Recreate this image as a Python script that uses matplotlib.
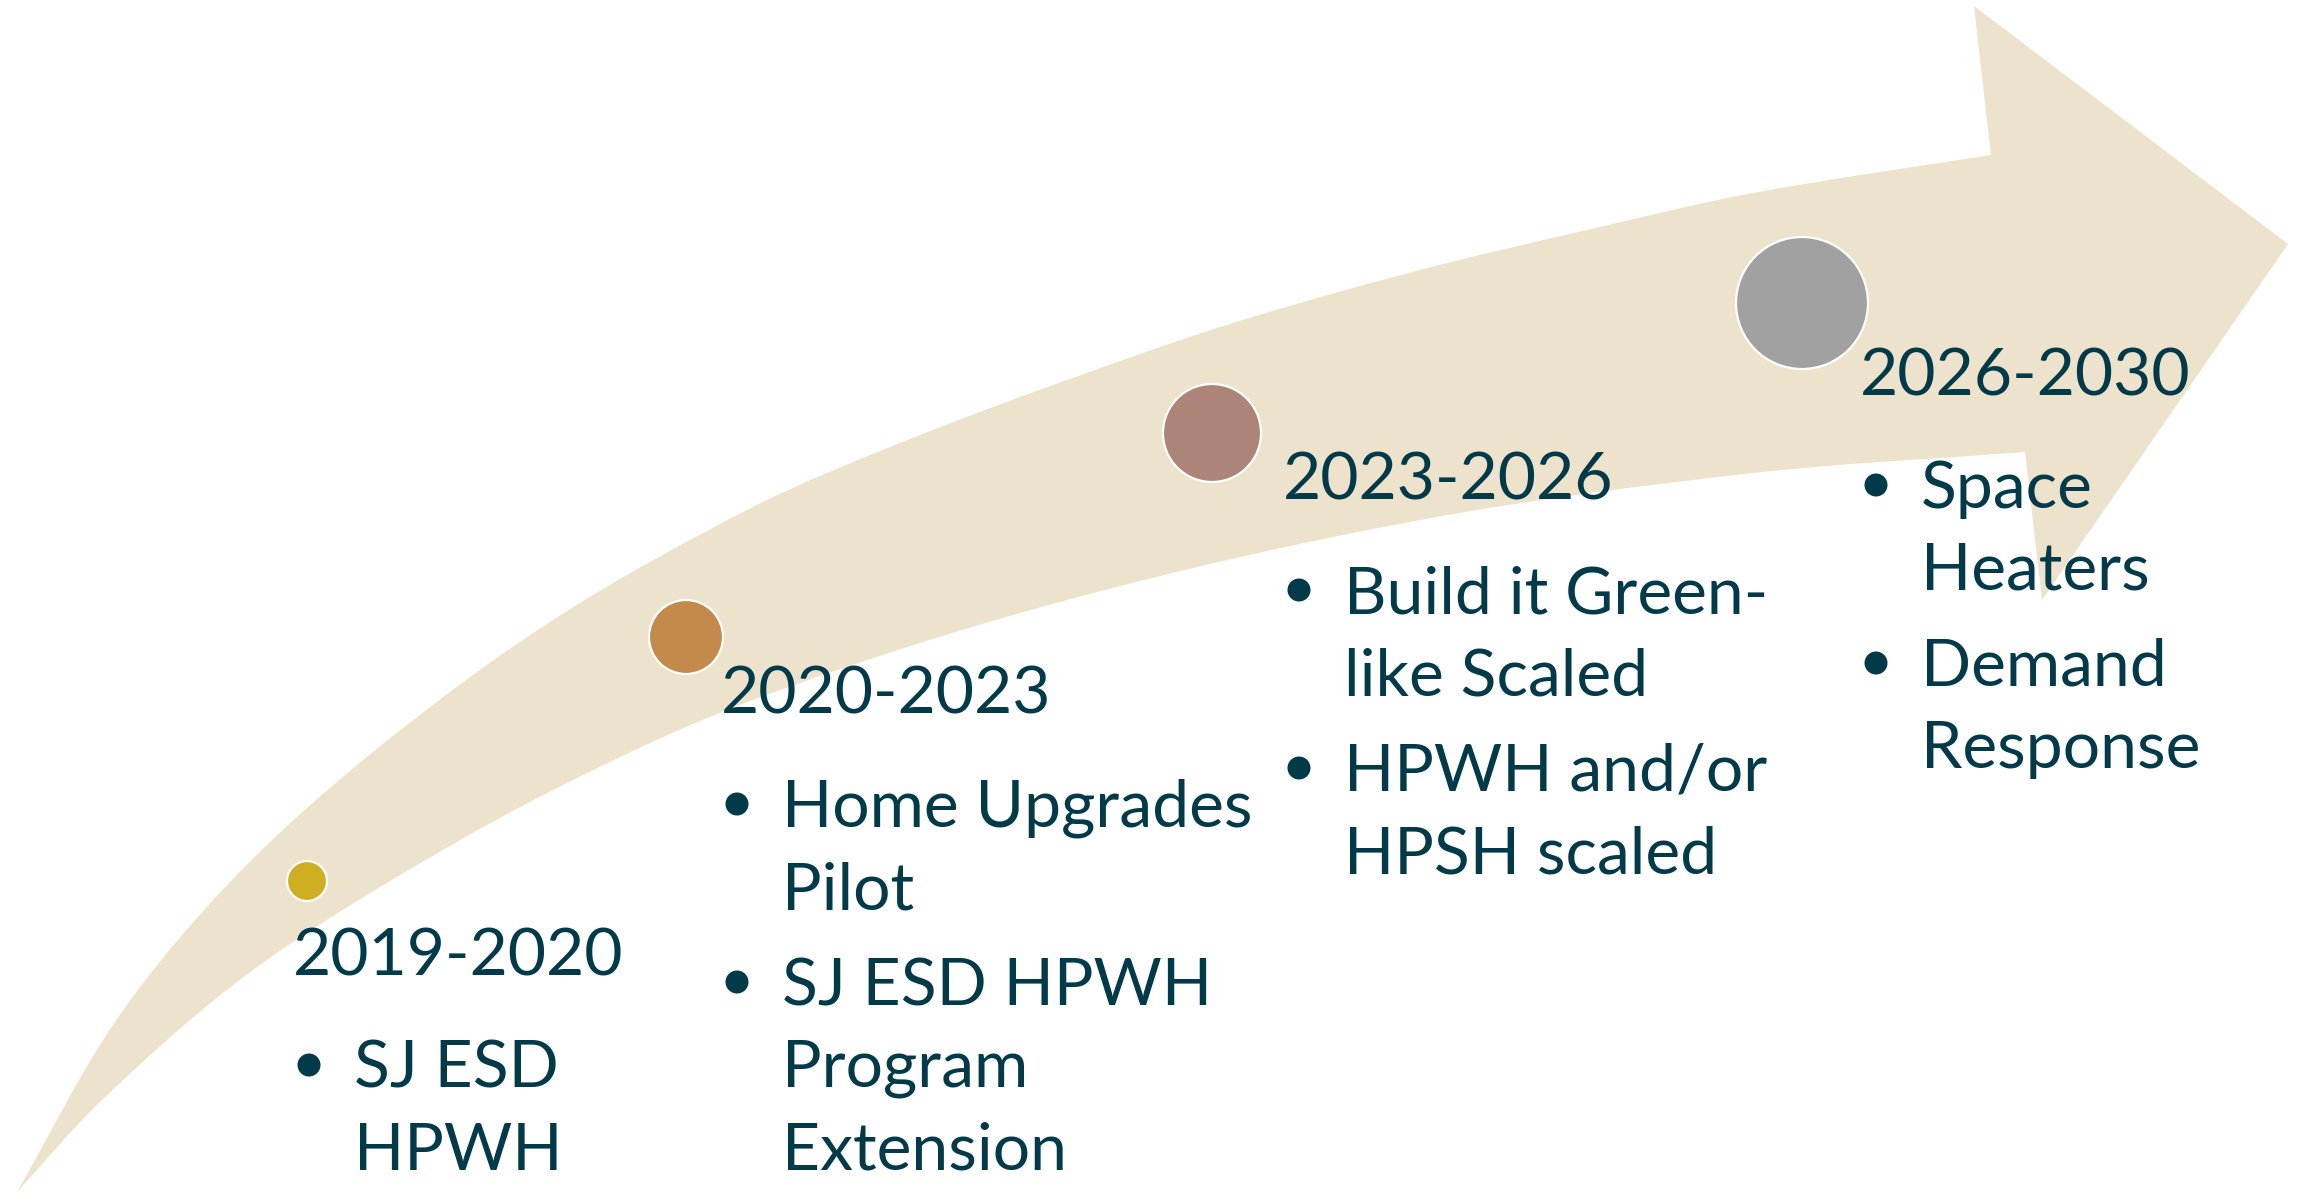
import matplotlib
matplotlib.use("Agg")
import matplotlib.pyplot as plt
from matplotlib.patches import Circle, PathPatch
from matplotlib.path import Path

# ── Content ───────────────────────────────────────────────────────────────────
periods = ["2019-2020", "2020-2023", "2023-2026", "2026-2030"]
bullets = [
    [["SJ ESD", "HPWH"]],
    [["Home Upgrades", "Pilot"], ["SJ ESD HPWH", "Program", "Extension"]],
    [["Build it Green-", "like Scaled"], ["HPWH and/or", "HPSH scaled"]],
    [["Space", "Heaters"], ["Demand", "Response"]],
]
dot_colors = ["#CFAE22", "#C38A4B", "#AC8578", "#A1A1A1"]

# ── Layout (pixel space of a 2300 x 1192 canvas) ──────────────────────────────
dot_centers = [(307, 881), (686, 637), (1212, 433), (1802, 303)]
dot_radius  = [20, 37, 49, 66]
heading_pos = [(293, 975), (721, 714), (1283, 500), (1860, 395)]

# arrow outline (tail -> head -> tail)
upper_edge = [(17, 1192), (117, 1019), (233, 879), (373, 752), (553, 620),
              (753, 507), (900, 443), (1067, 380), (1233, 323), (1420, 270),
              (1587, 230), (1753, 193), (1991, 155)]
head       = [(1974, 6), (2288, 244), (2042, 600), (2025, 452)]
lower_edge = [(2025, 452), (1753, 473), (1420, 520), (1067, 600), (753, 700),
              (553, 790), (367, 895), (233, 985), (100, 1102), (17, 1192)]

BEIGE = "#EDE3CC"
INK   = "#033A4A"
FONT  = ["Lato", "DejaVu Sans"]
FS    = 47.5


def smooth_through(pts):
    """Chord-length Hermite curve through the vertices, as cubic Beziers."""
    n = len(pts)
    d = [((pts[i + 1][0] - pts[i][0]) ** 2 +
          (pts[i + 1][1] - pts[i][1]) ** 2) ** 0.5 for i in range(n - 1)]
    tang = []
    for i in range(n):
        a = pts[max(i - 1, 0)]
        b = pts[min(i + 1, n - 1)]
        span = sum(d[max(i - 1, 0):min(i + 1, n - 1)])
        tang.append(((b[0] - a[0]) / span, (b[1] - a[1]) / span))
    verts, codes = [], []
    for i in range(n - 1):
        p1, p2 = pts[i], pts[i + 1]
        h = d[i] / 3
        c1 = (p1[0] + tang[i][0] * h, p1[1] + tang[i][1] * h)
        c2 = (p2[0] - tang[i + 1][0] * h, p2[1] - tang[i + 1][1] * h)
        verts += [c1, c2, p2]
        codes += [Path.CURVE4] * 3
    return verts, codes


fig = plt.figure(figsize=(23, 11.92), dpi=100)
ax = fig.add_axes([0, 0, 1, 1])
ax.set_xlim(0, 2300)
ax.set_ylim(1192, 0)
ax.axis("off")

# arrow body + head
verts, codes = [upper_edge[0]], [Path.MOVETO]
v, c = smooth_through(upper_edge)
verts += v; codes += c
verts += head; codes += [Path.LINETO] * len(head)
v, c = smooth_through(lower_edge)
verts += v; codes += c
verts.append(upper_edge[0]); codes.append(Path.CLOSEPOLY)
ax.add_patch(PathPatch(Path(verts, codes), facecolor=BEIGE,
                       edgecolor="none", zorder=1))

for (cx, cy), r, col in zip(dot_centers, dot_radius, dot_colors):
    ax.add_patch(Circle((cx, cy), r, facecolor=col, edgecolor="white",
                        linewidth=1.6, zorder=2))

line_gap   = 82
bullet_gap = 96
for label, groups, (hx, hy) in zip(periods, bullets, heading_pos):
    ax.text(hx, hy, label, fontsize=FS, color=INK, family=FONT,
            va="baseline", ha="left", zorder=3)
    y = hy + 113
    for lines in groups:
        ax.add_patch(Circle((hx + 16, y - 23), 11.5, facecolor=INK,
                            edgecolor="none", zorder=3))
        for i, ln in enumerate(lines):
            ax.text(hx + 61, y + i * line_gap, ln, fontsize=FS, color=INK,
                    family=FONT, va="baseline", ha="left", zorder=3)
        y += (len(lines) - 1) * line_gap + bullet_gap

fig.savefig("out.png", dpi=100, facecolor="white")
